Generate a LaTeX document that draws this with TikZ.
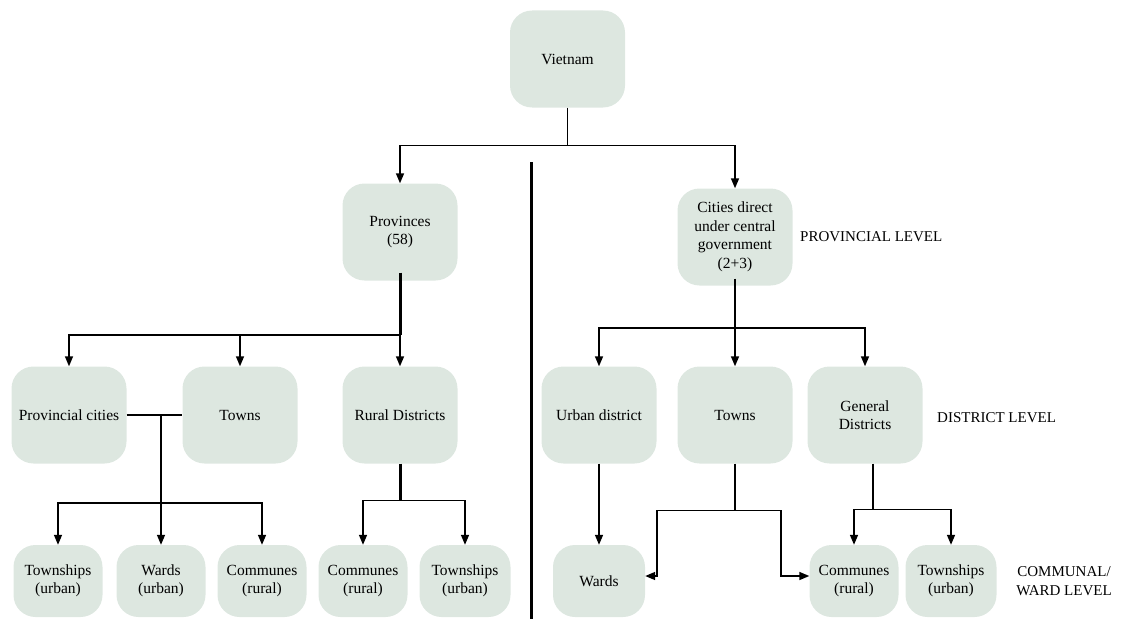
\documentclass[tikz,border=0pt]{standalone}
\usepackage{fontspec}
\setmainfont{Liberation Serif}
\usetikzlibrary{arrows.meta,calc}
\definecolor{boxfill}{RGB}{221,231,224}
\begin{document}
\begin{tikzpicture}[x=1pt,y=-1pt,
  box/.style={fill=boxfill, rounded corners=22pt, align=center, inner sep=0pt,
    font=\fontsize{15.5}{18.5}\selectfont},
  bigbox/.style={box, minimum width=115pt, minimum height=97pt},
  smallbox/.style={box, minimum width=89pt, minimum height=72pt},
  conn/.style={line width=1.5pt},
  heavy/.style={line width=3pt},
  arr/.style={conn, -{Triangle[length=10pt,width=8pt]}},
  level/.style={font=\fontsize{15}{19}\selectfont, align=center, inner sep=0pt}]
\useasboundingbox (0,0) rectangle (1134,626);
% top
\node[bigbox] (viet) at (567.5,59) {Vietnam};
\node[bigbox] (prov) at (400,232) {Provinces\\(58)};
\node[bigbox] (cities) at (735,237) {Cities direct\\under central\\government\\(2+3)};
% district level left
\node[bigbox] (pcity) at (69,415) {Provincial cities};
\node[bigbox] (townsL) at (240,415) {Towns};
\node[bigbox] (rural) at (400,415) {Rural Districts};
% district level right
\node[bigbox] (urban) at (599,415) {Urban district};
\node[bigbox] (townsR) at (735,415) {Towns};
\node[bigbox] (general) at (865,415) {General\\Districts};
% bottom left
\node[smallbox] (tw1) at (58,581) {Townships\\(urban)};
\node[smallbox] (wards1) at (161,581) {Wards\\(urban)};
\node[smallbox] (comm1) at (262,581) {Communes\\(rural)};
\node[smallbox] (comm2) at (363,581) {Communes\\(rural)};
\node[smallbox, minimum width=91pt] (tw2) at (465,581) {Townships\\(urban)};
% bottom right
\node[smallbox, minimum width=92pt] (wards2) at (599,581) {Wards};
\node[smallbox] (comm3) at (854,581) {Communes\\(rural)};
\node[smallbox, minimum width=91pt] (tw3) at (951,581) {Townships\\(urban)};
% level labels
\node[level, anchor=west] (lvP) at (800,237) {PROVINCIAL LEVEL};
\node[level, anchor=west] (lvD) at (937,418) {DISTRICT LEVEL};
\node[level] (lvC) at (1064,581) {COMMUNAL/\\WARD LEVEL};
% separator
\coordinate (sepT) at (531,162);
\coordinate (sepB) at (531,619);
\draw[heavy] (sepT) -- (sepB);
% Vietnam
\draw[conn] (viet.south) -- ++(0,38) coordinate (jV);
\draw[arr] (jV) -| (prov.north);
\draw[arr] (jV) -| (cities.north);
% Provinces
\draw[heavy] ([yshift=8pt]prov.south) -- (prov.south |- 0,335) coordinate (jP);
\draw[arr] (jP) -| (pcity.north);
\draw[arr] (jP) -| (townsL.north);
\draw[arr] (jP) -- (rural.north);
% Provincial cities / Towns
\draw[conn] (pcity.east) -- (townsL.west);
\coordinate (jPT) at (wards1.north |- pcity.east);
\draw[arr] (jPT) -- (wards1.north);
\coordinate (jPT2) at (wards1.north |- 0,503);
\draw[arr] (jPT2) -| (tw1.north);
\draw[arr] (jPT2) -| (comm1.north);
% Rural districts
\draw[heavy] (rural.south) -- ++(0,37) coordinate (jR);
\draw[arr] (jR) -| (comm2.north);
\draw[arr] (jR) -| (tw2.north);
% Cities
\draw[conn] ([yshift=7pt]cities.south) -- (cities.south |- 0,328) coordinate (jC);
\draw[arr] (jC) -| (urban.north);
\draw[arr] (jC) -- (townsR.north);
\draw[arr] (jC) -| (general.north);
% Urban district
\draw[arr] (urban.south) -- (wards2.north);
% Towns right
\draw[conn] (townsR.south) -- ++(0,47) coordinate (jT);
\draw[arr] (jT) -- ++(-78,0) |- ([yshift=5pt]wards2.east);
\draw[arr] (jT) -- ++(46,0) |- ([yshift=5pt]comm3.west);
% General districts
\draw[conn] ([xshift=8pt]general.south) -- ++(0,46) coordinate (jG);
\draw[arr] (jG) -| (comm3.north);
\draw[arr] (jG) -| (tw3.north);
\end{tikzpicture}
\end{document}
